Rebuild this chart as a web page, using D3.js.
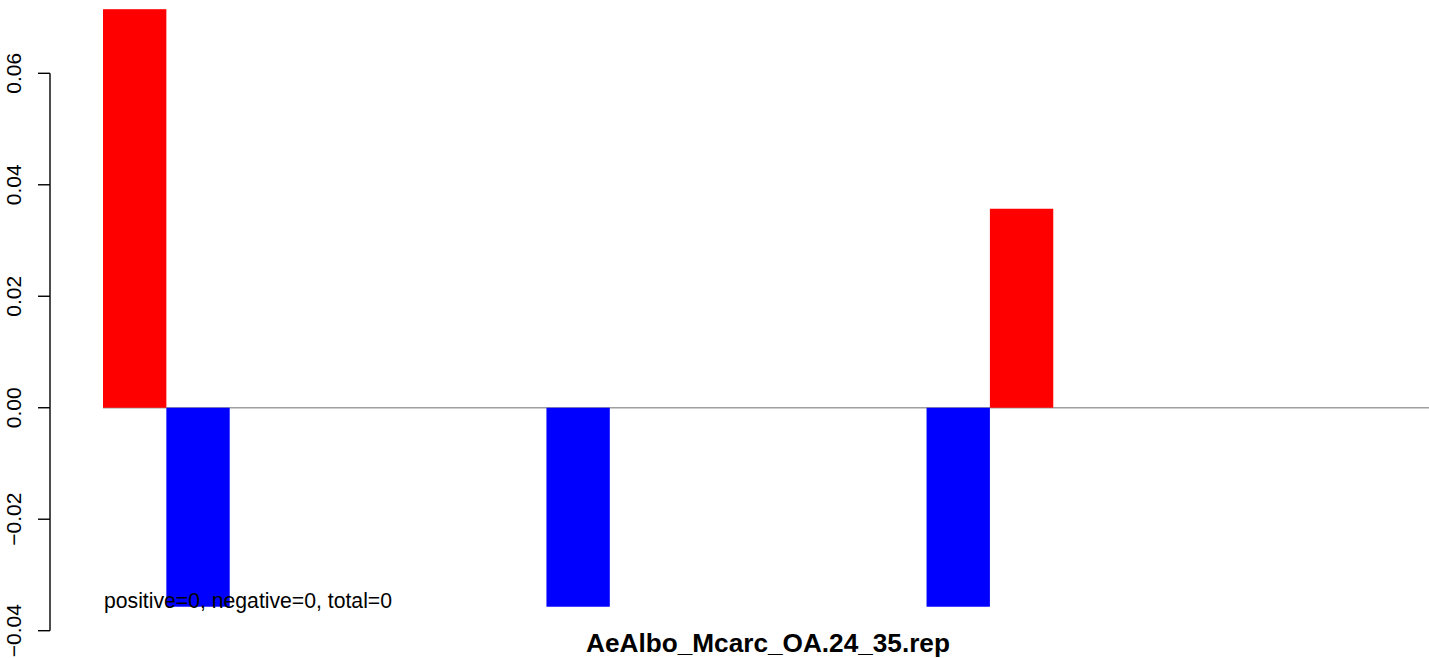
<!DOCTYPE html>
<html>
<head>
<meta charset="utf-8">
<script src="https://cdn.jsdelivr.net/npm/d3@7"></script>
<style>
  html, body { margin: 0; padding: 0; background: #fff; }
  svg { display: block; }
</style>
</head>
<body>
<svg id="chart" width="1429" height="658"></svg>
<script>
// ---- data ----
const positions = d3.range(21);
const values = [0.0715, -0.0357, 0, 0, 0, 0, 0, -0.0357, 0, 0, 0, 0, 0, -0.0357, 0.0357, 0, 0, 0, 0, 0, 0];
const yTicks = [-0.04, -0.02, 0.00, 0.02, 0.04, 0.06];
const title = "AeAlbo_Mcarc_OA.24_35.rep";
const note = "positive=0, negative=0, total=0";

// ---- layout ----
const W = 1429, H = 658;
const svg = d3.select("#chart");
const font = "Liberation Sans, Arial, Helvetica, sans-serif";

const barW = 63.35;
const x = d3.scaleLinear().domain([0, positions.length]).range([103, 103 + positions.length * barW]);
const y = d3.scaleLinear().domain([-0.04, 0.06]).range([630.7, 73.3]);

// zero line
svg.append("line")
  .attr("x1", x(0)).attr("x2", W)
  .attr("y1", y(0)).attr("y2", y(0))
  .attr("stroke", "#a0a0a0").attr("stroke-width", 1.6);

// bars
svg.append("g").selectAll("rect")
  .data(positions.filter(i => values[i] !== 0))
  .join("rect")
  .attr("x", i => x(i))
  .attr("width", i => x(i + 1) - x(i))
  .attr("y", i => y(Math.max(0, values[i])))
  .attr("height", i => Math.abs(y(values[i]) - y(0)))
  .attr("fill", i => values[i] > 0 ? "#ff0000" : "#0000ff");

// y axis
const axisX = 50;
const ax = svg.append("g").attr("transform", `translate(${axisX},0)`);
ax.append("line")
  .attr("x1", 0).attr("x2", 0)
  .attr("y1", y(yTicks[0])).attr("y2", y(yTicks[yTicks.length - 1]))
  .attr("stroke", "#000").attr("stroke-width", 1.4);
ax.selectAll("line.tick").data(yTicks).join("line")
  .attr("class", "tick")
  .attr("x1", 0).attr("x2", -12)
  .attr("y1", d => y(d)).attr("y2", d => y(d))
  .attr("stroke", "#000").attr("stroke-width", 1.4);

const fmt = d => d3.format(".2f")(d).replace("-", "\u2212");
svg.append("g").selectAll("text").data(yTicks).join("text")
  .attr("transform", d => `translate(21,${y(d)}) rotate(-90)`)
  .attr("text-anchor", "middle")
  .attr("font-family", font)
  .attr("font-size", 21)
  .attr("fill", "#000")
  .text(fmt);

// note text
svg.append("text")
  .attr("x", 104).attr("y", 608)
  .attr("font-family", font)
  .attr("font-size", 21.2)
  .attr("fill", "#000")
  .text(note);

// title
svg.append("text")
  .attr("x", 768).attr("y", 652)
  .attr("text-anchor", "middle")
  .attr("font-family", font)
  .attr("font-size", 26.2)
  .attr("font-weight", "bold")
  .attr("fill", "#000")
  .text(title);
</script>
</body>
</html>
